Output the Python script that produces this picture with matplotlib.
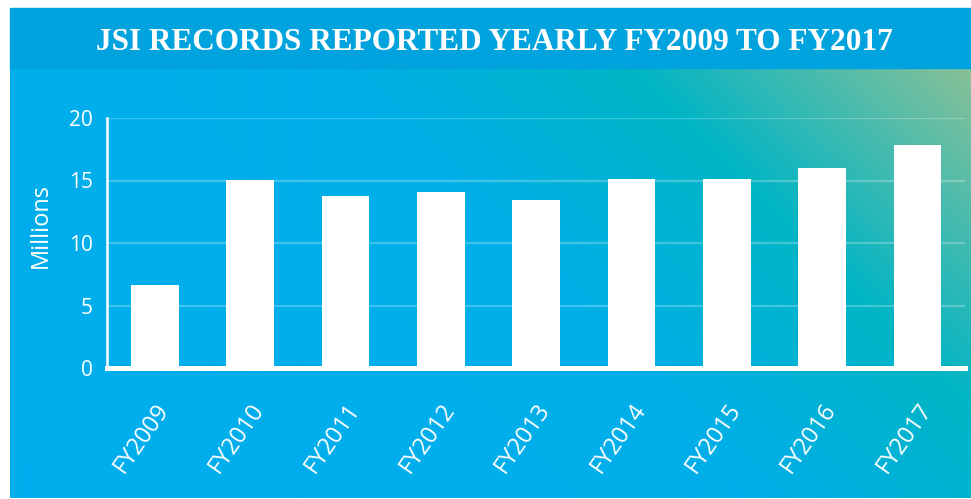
import numpy as np
import matplotlib.pyplot as plt
from matplotlib.patches import Rectangle
from matplotlib.colors import to_rgb

# ---------- Data (millions of JSI records) ----------
years = ["FY2009", "FY2010", "FY2011", "FY2012", "FY2013",
         "FY2014", "FY2015", "FY2016", "FY2017"]
records = [6.65, 15.05, 13.8, 14.1, 13.45, 15.1, 15.1, 16.0, 17.85]
y_ticks = [0, 5, 10, 15, 20]

W, H = 971, 499
fig = plt.figure(figsize=(W / 100, H / 100), dpi=100)
fig.patch.set_facecolor("white")

# ---------- Gradient background ----------
left_px, top_px, bottom_px = 10, 68, 498
bg = fig.add_axes([left_px / W, (H - bottom_px) / H,
                   (W - left_px) / W, (bottom_px - top_px) / H])
bg.set_axis_off()
xs = np.arange(left_px, W)
ys = np.arange(top_px, bottom_px)
X, Y = np.meshgrid(xs, ys)
s = X - Y  # diagonal: bottom-left -> top-right
stops = [(-600, "#00aeef"), (250, "#00aeea"), (560, "#00b5c6"), (910, "#8dc196")]
pos = [p for p, _ in stops]
img = np.zeros(X.shape + (3,))
for c in range(3):
    img[..., c] = np.interp(s, pos, [to_rgb(col)[c] for _, col in stops])
bg.imshow(img, aspect="auto", interpolation="bilinear")

# ---------- Title banner ----------
fig.patches.append(Rectangle((left_px / W, (H - 68) / H), 1 - left_px / W, 60 / H,
                             transform=fig.transFigure, color="#00a3dd", zorder=1))
fig.text(494.5 / W, (H - 50) / H, "JSI RECORDS REPORTED YEARLY FY2009 TO FY2017",
         ha="center", va="baseline", color="white", fontsize=22.5,
         fontweight="bold", family="Liberation Serif", zorder=2)

# ---------- Bar chart ----------
ax = fig.add_axes([107 / W, (H - 368) / H, (965 - 107) / W, 250 / H])
ax.patch.set_alpha(0)
x = np.arange(len(years))
ax.bar(x, records, width=0.5, color="white", zorder=3)
ax.set_xlim(-0.5, 8.5)
ax.set_ylim(0, 20)
ax.set_yticks(y_ticks)
ax.yaxis.grid(True, color="white", alpha=0.25, linewidth=1.6)
ax.set_axisbelow(True)

for side in ["top", "right"]:
    ax.spines[side].set_visible(False)
ax.spines["left"].set_color("white")
ax.spines["left"].set_linewidth(1.8)
ax.spines["bottom"].set_color("white")
ax.spines["bottom"].set_linewidth(3.6)
ax.spines["bottom"].set_zorder(4)

ax.tick_params(axis="y", length=0, pad=10, labelsize=15, labelcolor="white")
ax.tick_params(axis="x", length=0, pad=22, labelsize=17, labelcolor="white")
for lbl in ax.get_yticklabels():
    lbl.set_family("Open Sans")
ax.set_xticks(x)
ax.set_xticklabels(years, rotation=55, ha="right", rotation_mode="anchor",
                   family="Open Sans")
ax.set_ylabel("Millions", color="white", fontsize=17, family="Open Sans", labelpad=12)
ax.yaxis.label.set_y(0.57)

fig.savefig("out.png", dpi=100)
